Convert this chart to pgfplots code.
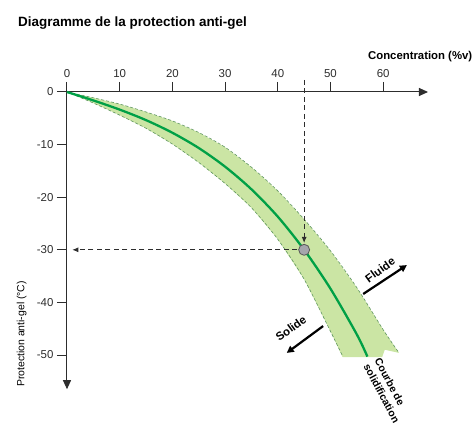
\documentclass[border=0pt]{standalone}
\usepackage{fontspec}
\setmainfont{Liberation Sans}
\usepackage{pgfplots}
\pgfplotsset{compat=1.18}
\usetikzlibrary{arrows.meta}
\definecolor{bandfill}{RGB}{203,229,164}
\definecolor{curvegreen}{RGB}{0,160,70}
\definecolor{edgegreen}{RGB}{95,150,95}
\definecolor{axisgray}{RGB}{45,45,45}
\definecolor{dotgray}{RGB}{165,165,172}
\begin{document}
\begin{tikzpicture}
\begin{axis}[
  x=5.27bp, y=5.26bp,
  xmin=0, xmax=66, ymin=-54, ymax=0,
  enlargelimits=false,
  axis x line*=top, axis y line*=left,
  axis line style={axisgray, line width=1pt},
  xtick={0,10,20,30,40,50,60}, xticklabels={0,10,20,30,40,50,60},
  ytick={-50,-40,-30,-20,-10,0}, yticklabels={-50,-40,-30,-20,-10,0},
  tick align=outside,
  major tick length=10bp,
  tick style={axisgray, line width=1pt},
  tick label style={font=\fontsize{11.5}{13}\selectfont, text=axisgray},
  xticklabel style={yshift=1bp},
  clip=false,
]
% band
\addplot[fill=bandfill, draw=none] coordinates {
 (0,0) (5,-1.1) (10,-2.3) (15,-3.8) (20,-5.5) (25,-7.7) (30,-10.5) (35,-14.3)
 (40,-18.8) (45,-24.2) (50,-30.2) (55,-37.2) (60,-45.2) (63,-49.6)
 (60.3,-49.0) (59.8,-50.4)
 (52.3,-50.4) (50,-45.5) (45,-35.6) (40,-28.0) (35,-22.0) (30,-17.4) (25,-13.4)
 (20,-9.9) (15,-6.9) (10,-4.4) (5,-2.1) (0,0)} -- cycle;
\addplot[edgegreen, dash pattern=on 3bp off 2bp, line width=0.6pt, smooth] coordinates {
 (0,0) (5,-1.1) (10,-2.3) (15,-3.8) (20,-5.5) (25,-7.7) (30,-10.5) (35,-14.3)
 (40,-18.8) (45,-24.2) (50,-30.2) (55,-37.2) (60,-45.2) (63,-49.6)};
\addplot[edgegreen, dash pattern=on 3bp off 2bp, line width=0.6pt, smooth] coordinates {
 (0,0) (5,-2.1) (10,-4.4) (15,-6.9) (20,-9.9) (25,-13.4) (30,-17.4) (35,-22.0)
 (40,-28.0) (45,-35.6) (50,-45.5) (52.3,-50.2)};
\addplot[curvegreen, line width=2.3pt, smooth] coordinates {
 (0,0) (5,-1.6) (10,-3.35) (15,-5.35) (20,-7.75) (25,-10.65) (30,-14.2) (35,-18.5)
 (40,-23.7) (45,-30) (50,-37.4) (55,-46.1) (57,-50.3)};
% axis arrows
\draw[axisgray, line width=1pt, -{Triangle[length=9bp,width=8bp]}] (axis cs:60,0) -- (axis cs:68.5,0);
\draw[axisgray, line width=1pt, -{Triangle[length=9bp,width=8bp]}] (axis cs:0,-50) -- (axis cs:0,-56.5);
% reading lines
\draw[axisgray, dash pattern=on 5bp off 3.5bp, line width=0.9pt, -{Latex[length=6bp,width=5bp]}] (axis cs:45,2.3) -- (axis cs:45,-28.7);
\draw[axisgray, dash pattern=on 5bp off 3.5bp, line width=0.9pt, -{Latex[length=6bp,width=5bp]}] (axis cs:43.7,-30) -- (axis cs:1,-30);
\addplot[only marks, mark=*, mark size=5.5bp, mark options={fill=dotgray, draw=axisgray!80, line width=0.8pt}] coordinates {(45,-30)};
% Fluide / Solide arrows
\draw[black, line width=2.2bp, -{Triangle[length=7bp,width=7bp]}] (axis cs:56.2,-38.4) -- (axis cs:64.5,-32.9);
\draw[black, line width=2.2bp, -{Triangle[length=7bp,width=7bp]}] (axis cs:48.6,-44.5) -- (axis cs:41.7,-49.6);
\node[rotate=36, font=\bfseries\fontsize{11.5}{13}\selectfont] at (axis cs:59.4,-33.8) {Fluide};
\node[rotate=36, font=\bfseries\fontsize{11.5}{13}\selectfont] at (axis cs:42.5,-44.9) {Solide};
\node[rotate=-62, anchor=north west, align=left, inner sep=0pt, font=\bfseries\fontsize{10.5}{12.5}\selectfont] at (axis cs:59.6,-50.4) {Courbe de\\solidification};
% texts
\node[rotate=90, font=\fontsize{10.5}{12}\selectfont] at (axis cs:-8.6,-46) {Protection anti-gel (°C)};
\node[anchor=west, inner sep=0pt, font=\bfseries\fontsize{13.5}{15}\selectfont] at (axis cs:-9.3,13.1) {Diagramme de la protection anti-gel};
\node[anchor=west, inner sep=0pt, font=\bfseries\fontsize{11.4}{13}\selectfont] at (axis cs:57.1,6.65) {Concentration (\%v)};
\coordinate (BL) at (axis cs:-12.71,-64.26);
\coordinate (TR) at (axis cs:77.23,17.49);
\end{axis}
\pgfresetboundingbox
\path[use as bounding box] (BL) rectangle (TR);
\end{tikzpicture}
\end{document}
